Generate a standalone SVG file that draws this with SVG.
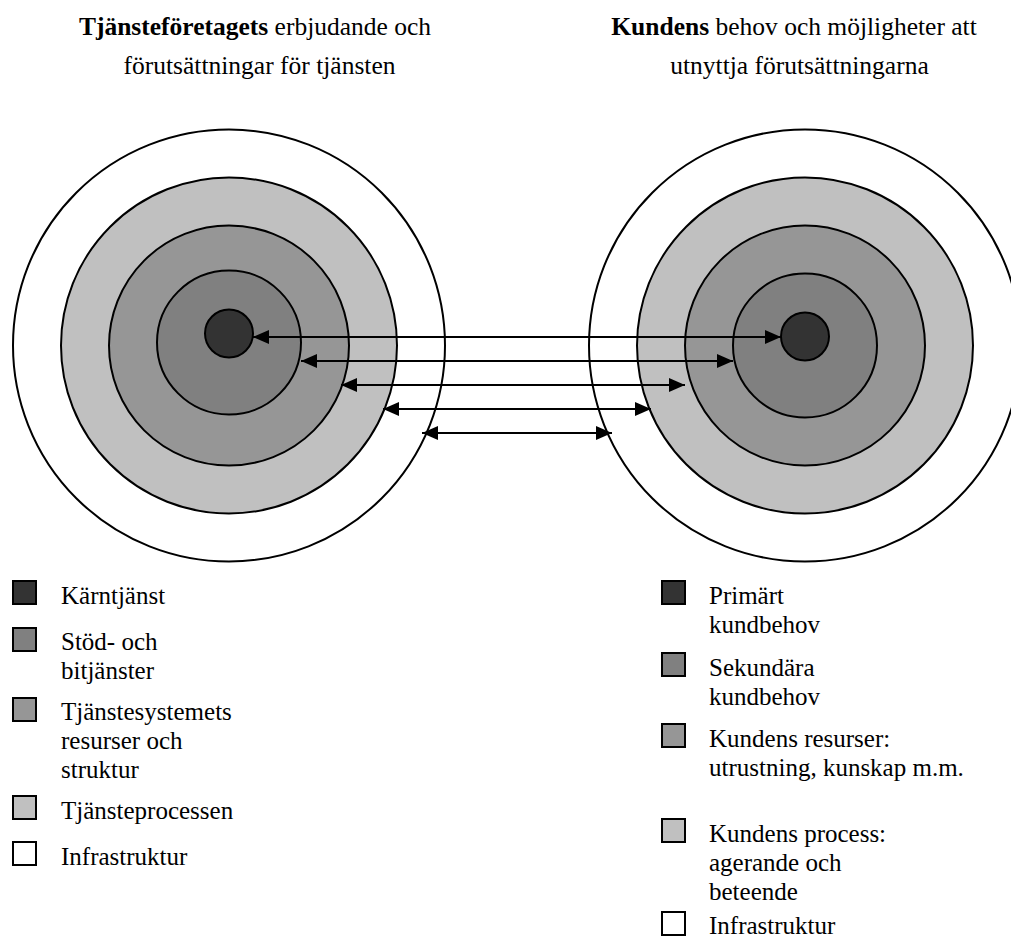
<svg xmlns="http://www.w3.org/2000/svg" width="1011" height="942" viewBox="0 0 1011 942">
  <style>
    .ring { stroke: #000; stroke-width: 2; }
    .c0 { fill: #ffffff; }
    .c1 { fill: #c0c0c0; }
    .c2 { fill: #969696; }
    .c3 { fill: #808080; }
    .c4 { fill: #333333; }
    text { font-family: "Liberation Serif", "DejaVu Serif", serif; font-weight: normal; fill: #000; }
    .txt { font-size: 25px; }
    .title { font-size: 25.5px; }
    .b { font-weight: bold; }
    .key { stroke: #000; stroke-width: 2; }
    .link { stroke: #000; stroke-width: 2; fill: none; marker-start: url(#headL); marker-end: url(#headR); }
  </style>
  <defs>
    <marker id="headR" markerUnits="userSpaceOnUse" markerWidth="16" markerHeight="14" refX="16" refY="7" orient="auto" viewBox="0 0 16 14">
      <path d="M0,0 L16,7 L0,14 Z" fill="#000"/>
    </marker>
    <marker id="headL" markerUnits="userSpaceOnUse" markerWidth="16" markerHeight="14" refX="0" refY="7" orient="auto" viewBox="0 0 16 14">
      <path d="M16,0 L0,7 L16,14 Z" fill="#000"/>
    </marker>
  </defs>

  <rect width="1011" height="942" fill="#ffffff"/>

  <!-- headings -->
  <g id="heading-provider">
    <text class="title" x="255" y="35" text-anchor="middle"><tspan class="b">Tjänsteföretagets</tspan> erbjudande och</text>
    <text class="title" x="259.5" y="74" text-anchor="middle">förutsättningar för tjänsten</text>
  </g>
  <g id="heading-customer">
    <text class="title" x="794" y="35" text-anchor="middle"><tspan class="b">Kundens</tspan> behov och möjligheter att</text>
    <text class="title" x="799.5" y="74" text-anchor="middle">utnyttja förutsättningarna</text>
  </g>

  <!-- provider rings -->
  <g id="provider-rings">
    <circle class="ring c0" cx="229" cy="345.5" r="216"/>
    <circle class="ring c1" cx="229" cy="345.5" r="168"/>
    <circle class="ring c2" cx="229" cy="345.5" r="120"/>
    <circle class="ring c3" cx="229" cy="342.5" r="72"/>
    <circle class="ring c4" cx="229" cy="333.5" r="24"/>
  </g>

  <!-- customer rings -->
  <g id="customer-rings">
    <circle class="ring c0" cx="805" cy="345.5" r="216"/>
    <circle class="ring c1" cx="805" cy="345.5" r="168"/>
    <circle class="ring c2" cx="805" cy="345.5" r="120"/>
    <circle class="ring c3" cx="805" cy="345.5" r="72"/>
    <circle class="ring c4" cx="805" cy="336.5" r="24"/>
  </g>

  <!-- two-way links between matching layers -->
  <g id="connectors">
    <line class="link" x1="253" y1="337" x2="781" y2="337"/>
    <line class="link" x1="301" y1="361" x2="733" y2="361"/>
    <line class="link" x1="341" y1="385" x2="685" y2="385"/>
    <line class="link" x1="383" y1="409" x2="651" y2="409"/>
    <line class="link" x1="422" y1="433" x2="612" y2="433"/>
  </g>

  <!-- provider legend -->
  <g id="legend-provider">
    <g id="key-karntjanst">
      <rect class="key c4" x="13" y="581" width="23" height="23"/>
      <text class="txt" x="61" y="604">Kärntjänst</text>
    </g>
    <g id="key-stod">
      <rect class="key c3" x="13" y="628" width="23" height="23"/>
      <text class="txt" x="61" y="650">Stöd- och</text>
      <text class="txt" x="61" y="679">bitjänster</text>
    </g>
    <g id="key-system">
      <rect class="key c2" x="13" y="698" width="23" height="23"/>
      <text class="txt" x="61" y="720">Tjänstesystemets</text>
      <text class="txt" x="61" y="749">resurser och</text>
      <text class="txt" x="61" y="778">struktur</text>
    </g>
    <g id="key-process">
      <rect class="key c1" x="13" y="796" width="23" height="23"/>
      <text class="txt" x="61" y="819">Tjänsteprocessen</text>
    </g>
    <g id="key-infra-left">
      <rect class="key c0" x="13" y="842" width="23" height="23"/>
      <text class="txt" x="61" y="865">Infrastruktur</text>
    </g>
  </g>

  <!-- customer legend -->
  <g id="legend-customer">
    <g id="key-primart">
      <rect class="key c4" x="662" y="581" width="23" height="23"/>
      <text class="txt" x="709" y="604">Primärt</text>
      <text class="txt" x="709" y="633">kundbehov</text>
    </g>
    <g id="key-sekundara">
      <rect class="key c3" x="662" y="653" width="23" height="23"/>
      <text class="txt" x="709" y="676">Sekundära</text>
      <text class="txt" x="709" y="705">kundbehov</text>
    </g>
    <g id="key-resurser">
      <rect class="key c2" x="662" y="724" width="23" height="23"/>
      <text class="txt" x="709" y="747">Kundens resurser:</text>
      <text class="txt" x="709" y="776">utrustning, kunskap m.m.</text>
    </g>
    <g id="key-kundprocess">
      <rect class="key c1" x="662" y="819" width="23" height="23"/>
      <text class="txt" x="709" y="842">Kundens process:</text>
      <text class="txt" x="709" y="871">agerande och</text>
      <text class="txt" x="709" y="900">beteende</text>
    </g>
    <g id="key-infra-right">
      <rect class="key c0" x="662" y="912" width="23" height="23"/>
      <text class="txt" x="709" y="934">Infrastruktur</text>
    </g>
  </g>
</svg>
